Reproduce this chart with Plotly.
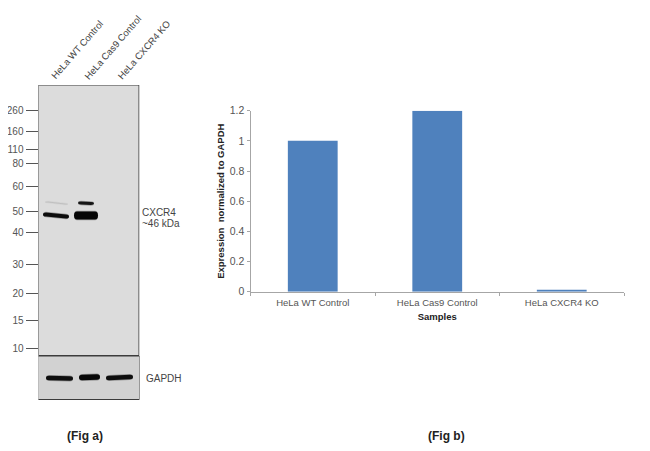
# western blot (fig a) and normalized expression bars (fig b)
import plotly.graph_objects as go

W, H = 650, 451
# the page body keeps its 8px margin, so the figure is that much smaller
OFF = 8
FIG_W, FIG_H = W - OFF, H - OFF

samples = ["HeLa WT Control", "HeLa Cas9 Control", "HeLa CXCR4 KO"]
expression = [1.0, 1.2, 0.01]

mw_labels = ["260", "160", "110", "80", "60", "50", "40", "30", "20", "15", "10"]
mw_rows = [110, 131, 149, 163, 186.5, 211, 232, 264, 293, 320, 348]

# blot bands: x start, x end, row left, row right, thickness, colour
bands = [
    (43, 69, 214.5, 216.5, 4, "#0c0c0c"),
    (74, 98, 215.5, 215.5, 8, "#050505"),
    (78, 94, 203, 203.5, 2.8, "#151515"),
    (45, 68, 202, 204, 1, "#c0c0c0"),
    (46, 73, 378, 378.5, 4.4, "#0e0e0e"),
    (79, 100, 377.5, 377, 5.6, "#080808"),
    (106, 133, 378, 377, 4.4, "#0e0e0e"),
]


def px(x):
    return (x - OFF) / FIG_W


def py(y):
    return 1 - (y - OFF) / FIG_H


fig = go.Figure()

# bar chart
fig.add_trace(go.Bar(x=samples, y=expression, width=0.4,
                     marker=dict(color="#4f81bd", line=dict(width=0)),
                     cliponaxis=False, xaxis="x", yaxis="y", showlegend=False))

# blot panel, axes in image rows/columns
shapes = [
    dict(type="rect", xref="x2", yref="y2", x0=38.5, x1=139, y0=85, y1=355.5,
         fillcolor="#dcdcdc", line=dict(color="#3c3c3c", width=1), layer="below"),
    dict(type="rect", xref="x2", yref="y2", x0=38, x1=139.5, y0=356, y1=399.5,
         fillcolor="#d2d2d2", line=dict(color="#3c3c3c", width=1), layer="below"),
]
for x0, x1, r0, r1, t, col in bands:
    # soft halo first, then the band itself
    for extra, op in [(1.6, 0.3), (0, 1)]:
        tt = (t + extra) / 2
        path = (f"M{x0},{r0} Q{x0},{r0 - tt} {x0 + 3},{r0 - tt} "
                f"L{x1 - 3},{r1 - tt} Q{x1},{r1 - tt} {x1},{r1} "
                f"Q{x1},{r1 + tt} {x1 - 3},{r1 + tt} L{x0 + 3},{r0 + tt} "
                f"Q{x0},{r0 + tt} {x0},{r0} Z")
        shapes.append(dict(type="path", xref="x2", yref="y2", path=path, fillcolor=col,
                           opacity=op, line=dict(width=0)))

annotations = []

for name, x, y in zip(samples, [46, 79, 113], [83, 84, 84]):
    annotations.append(dict(text=name, xref="paper", yref="paper", x=px(x), y=py(y),
                            xanchor="left", yanchor="bottom", showarrow=False, textangle=-49,
                            font=dict(family="Liberation Sans", size=9.5, color="#444444")))

for text, x, y, size, color, weight in [
    ("CXCR4", 140, 212, 10, "#444444", "normal"),
    ("~46 kDa", 140, 223, 10, "#444444", "normal"),
    ("GAPDH", 144, 378, 10, "#444444", "normal"),
    ("(Fig a)", 85, 436, 12, "#222222", "bold"),
    ("(Fig b)", 446, 436, 12, "#222222", "bold"),
]:
    annotations.append(dict(text=text, xref="paper", yref="paper", x=px(x), y=py(y),
                            xanchor="center" if text.startswith("(") else "left", yanchor="middle",
                            showarrow=False,
                            font=dict(family="Liberation Sans", size=size, color=color, weight=weight)))

fig.update_layout(
    width=FIG_W, height=FIG_H, margin=dict(l=0, r=0, t=0, b=0, pad=0),
    paper_bgcolor="white", plot_bgcolor="rgba(0,0,0,0)",
    font=dict(family="Liberation Sans", size=10, color="#555555"),
    shapes=shapes, annotations=annotations,
    xaxis=dict(domain=[px(250.5), px(624)], anchor="y", automargin=False, showgrid=False,
               showline=True, linecolor="#a6a6a6", linewidth=1, ticks="outside", tickson="boundaries",
               ticklen=3, tickcolor="#a6a6a6", ticklabelstandoff=2,
               tickfont=dict(size=9.5, color="#555555"), zeroline=False,
               title=dict(text="Samples", standoff=6, font=dict(size=9.5, color="#222222", weight="bold"))),
    yaxis=dict(domain=[py(291.7), py(110.7)], anchor="x", automargin=False, range=[0, 1.2], dtick=0.2,
               tickformat="~g", showgrid=False, showline=True, linecolor="#a6a6a6", ticks="outside",
               ticklen=3, tickcolor="#a6a6a6", tickfont=dict(size=10.5, color="#555555"), zeroline=False,
               title=dict(text="Expression  normalized to GAPDH", standoff=3,
                          font=dict(size=9.5, color="#222222", weight="bold"))),
    xaxis2=dict(domain=[px(38.5), px(139.5)], anchor="y2", range=[38.5, 139.5], visible=False),
    yaxis2=dict(domain=[py(400), py(85)], anchor="x2", automargin=False, range=[400, 85], showgrid=False,
                zeroline=False, showline=False, tickmode="array", tickvals=mw_rows, ticktext=mw_labels,
                ticks="outside", ticklen=12, tickcolor="#555555", tickwidth=1,
                tickfont=dict(size=10, color="#555555")),
)

fig.write_html("out.html")
